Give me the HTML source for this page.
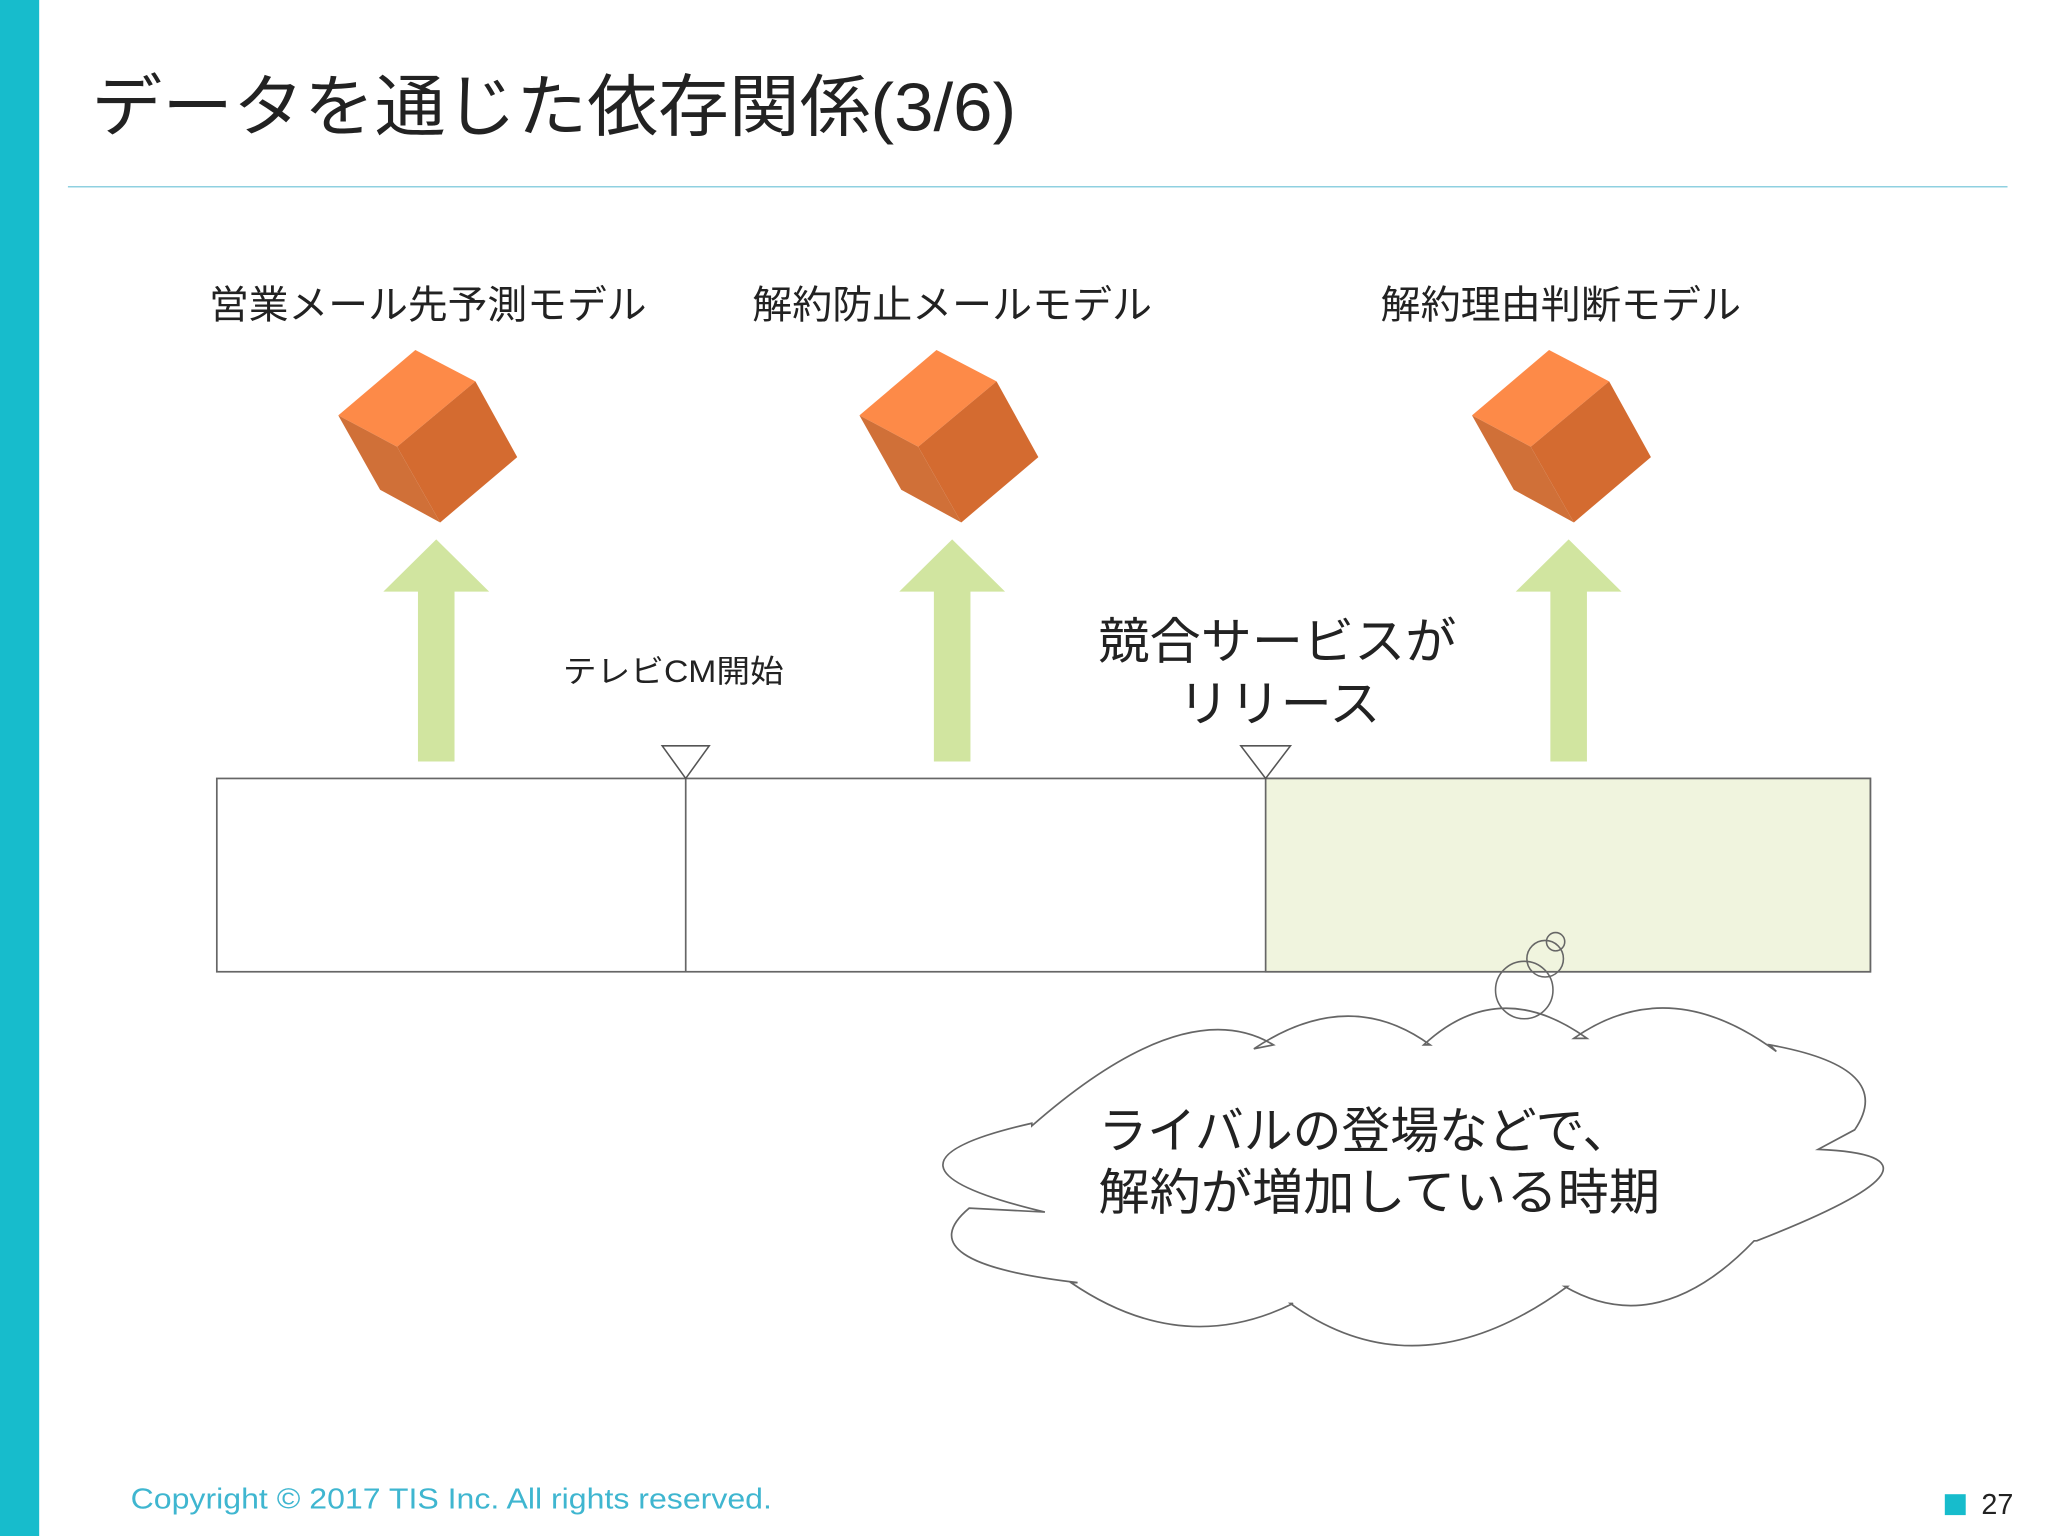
<!DOCTYPE html>
<html><head><meta charset="utf-8"><style>
html,body{margin:0;padding:0;background:#fff;}
svg{display:block;}
text{font-family:"Liberation Sans","Noto Sans CJK JP",sans-serif;}
</style></head><body>
<svg width="2048" height="1536" viewBox="0 0 1568 1176" xmlns="http://www.w3.org/2000/svg">
<rect x="0" y="0" width="1568" height="1176" fill="#fff"/>
<rect x="0" y="0" width="30" height="1176" fill="#17bccc"/>
<text x="70" y="100" font-size="52" fill="#222" textLength="708" lengthAdjust="spacingAndGlyphs">データを通じた依存関係(3/6)</text>
<line x1="52" y1="143" x2="1537" y2="143" stroke="#8fd0e0" stroke-width="1.2"/>

<g font-size="30" fill="#222">
<text x="160" y="244" textLength="335" lengthAdjust="spacingAndGlyphs">営業メール先予測モデル</text>
<text x="576" y="244" textLength="306" lengthAdjust="spacingAndGlyphs">解約防止メールモデル</text>
<text x="1057" y="244" textLength="276" lengthAdjust="spacingAndGlyphs">解約理由判断モデル</text>
</g>

<defs>
<g id="cube">
<polygon points="318,268 364,292 304,342 259,318" fill="#fd8a48"/>
<polygon points="364,292 396,350 337,400 304,342" fill="#d46b30"/>
<polygon points="259,318 304,342 337,400 291,375" fill="#d07038"/>
</g>
<path id="arr" d="M0,413 L40.5,453 L14,453 L14,583 L-14,583 L-14,453 L-40.5,453 Z" fill="#d1e5a0"/>
</defs>
<use href="#cube"/>
<use href="#cube" transform="translate(399,0)"/>
<use href="#cube" transform="translate(868,0)"/>
<use href="#arr" transform="translate(334,0)"/>
<use href="#arr" transform="translate(729,0)"/>
<use href="#arr" transform="translate(1201,0)"/>

<text x="431" y="522" font-size="24" fill="#222" textLength="169" lengthAdjust="spacingAndGlyphs">テレビCM開始</text>
<g font-size="38" fill="#222">
<text x="841" y="504" textLength="274" lengthAdjust="spacingAndGlyphs">競合サービスが</text>
<text x="902" y="552" textLength="155" lengthAdjust="spacingAndGlyphs">リリース</text>
</g>

<rect x="166" y="596" width="1266" height="148" fill="#fff" stroke="#666" stroke-width="1.3"/>
<rect x="969" y="596" width="463" height="148" fill="#f0f4de" stroke="#666" stroke-width="1.3"/>
<line x1="525" y1="596" x2="525" y2="744" stroke="#666" stroke-width="1.3"/>
<polygon points="507,571 543,571 525,596" fill="#fff" stroke="#555" stroke-width="1.2"/>
<polygon points="950,571 988,571 969,596" fill="#fff" stroke="#555" stroke-width="1.2"/>

<path d="M790,862 Q907.5,759 975,800 L960,803 Q1032.5,754.5 1095,800 L1090,800 Q1147.5,746.5 1215,795 L1205,795 Q1277.5,744 1360,805 L1355,800 Q1452.5,817.5 1420,865 L1392,880 Q1511.5,885 1345,950 L1343,950 Q1269.5,1026.5 1198,985 L1200,985 Q1086,1068.5 988,998 L990,998 Q905,1040 820,982 L825,982 Q692.5,966.5 742,925 L800,928 Q649,892 790,860 Z" fill="#fff" stroke="#666" stroke-width="1.3"/>
<circle cx="1167" cy="758" r="22" fill="none" stroke="#666" stroke-width="1.2"/>
<circle cx="1183" cy="734" r="14" fill="none" stroke="#666" stroke-width="1.2"/>
<circle cx="1191" cy="721" r="7" fill="none" stroke="#666" stroke-width="1.2"/>

<g font-size="38" fill="#222">
<text x="841" y="879" textLength="408" lengthAdjust="spacingAndGlyphs">ライバルの登場などで、</text>
<text x="841" y="926" textLength="430" lengthAdjust="spacingAndGlyphs">解約が増加している時期</text>
</g>

<text x="100" y="1155" font-size="22" fill="#3fb6d0" textLength="491" lengthAdjust="spacingAndGlyphs">Copyright © 2017 TIS Inc. All rights reserved.</text>
<rect x="1489" y="1144" width="16" height="16" fill="#17bccc"/>
<text x="1517" y="1159" font-size="22" fill="#222">27</text>
</svg>
</body></html>
